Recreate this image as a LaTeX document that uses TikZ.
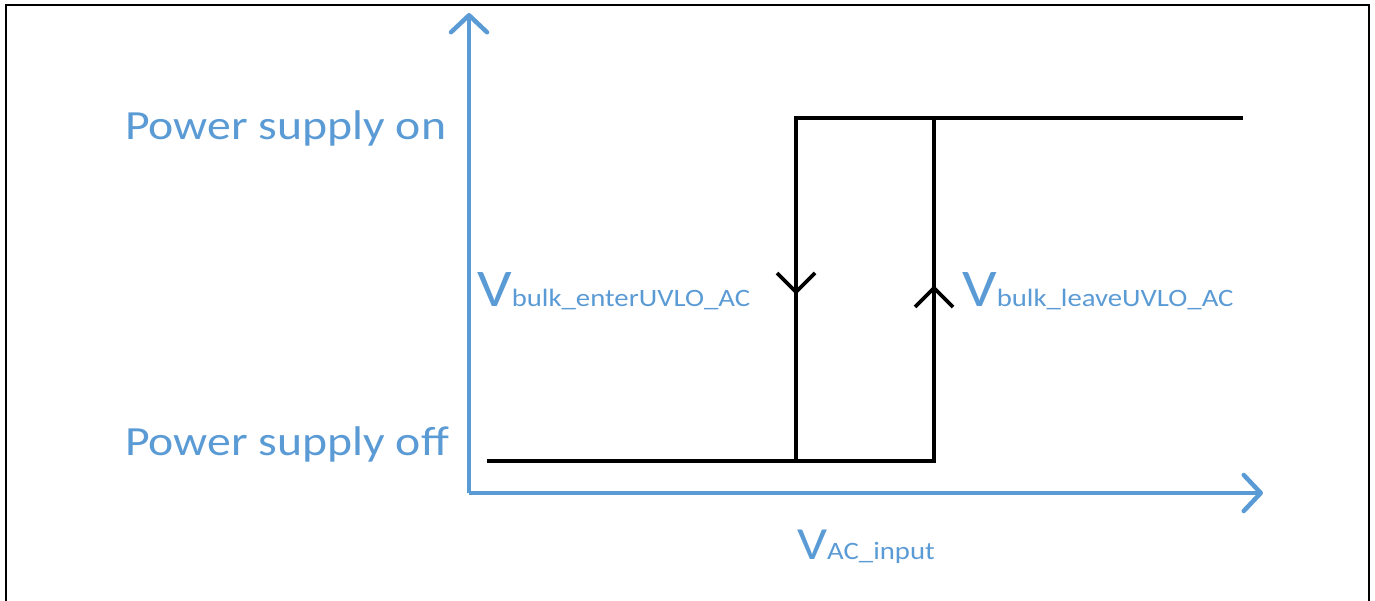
\documentclass[tikz,border=0pt]{standalone}
\usepackage{fontspec}
\usetikzlibrary{arrows.meta}
\newfontfamily\calfont[FakeStretch=1.15]{Carlito}
\definecolor{axisblue}{HTML}{5B9BD5}
\begin{document}
\begin{tikzpicture}[x=1pt,y=-1pt,
  axis/.style={draw=axisblue,line width=4.5pt,line join=miter,
    -{Straight Barb[length=17pt,width=36pt,line cap=round,line join=round]}},
  curve/.style={draw=black,line width=3.8pt,line join=miter},
  chev/.style={draw=black,line width=3.8pt,line join=miter,line cap=butt},
  lbl/.style={anchor=base west,inner sep=0pt,text=axisblue,font=\calfont}]
\useasboundingbox (0,0) rectangle (1375,601);
% frame
\draw[line width=2.5pt] (6,610) -- (6,5) -- (1369,5) -- (1369,610);
% axes
\coordinate (O) at (469,493);
\coordinate (ytip) at (469,13);
\coordinate (xtip) at (1263,493);
\draw[axis] (O) -- (ytip);
\draw[axis] (O) -- (xtip);
% hysteresis curve
\coordinate (b0) at (487,461);
\coordinate (b1) at (796,461);
\coordinate (b2) at (934,461);
\coordinate (t1) at (796,118);
\coordinate (t2) at (934,118);
\coordinate (t3) at (1243,118);
\coordinate (dtip) at (796,292);
\coordinate (utip) at (934,288);
\draw[curve] (b0) -- (b2) -- (t2);
\draw[curve] (b1) -- (t1) -- (t3);
% direction marks
\draw[chev] ([xshift=-19pt,yshift=19pt]dtip) -- (dtip) -- ([xshift=19pt,yshift=19pt]dtip);
\draw[chev] ([xshift=-19pt,yshift=-19pt]utip) -- (utip) -- ([xshift=19pt,yshift=-19pt]utip);
% labels
\node[lbl] (pson) at (125,140) {\fontsize{41.5}{43}\selectfont Power supply on};
\node[lbl] (psoff) at (125,455) {\fontsize{41.5}{43}\selectfont Power supply off};
\node[lbl] (enter) at (477,307) {\fontsize{53}{56}\selectfont V\fontsize{25}{28}\selectfont bulk\_enterUVLO\_AC};
\node[lbl] (leave) at (962,307) {\fontsize{53}{56}\selectfont V\fontsize{25}{28}\selectfont bulk\_leaveUVLO\_AC};
\node[lbl] (vac) at (797,559) {\fontsize{46}{48}\selectfont V\fontsize{25}{28}\selectfont AC\_input};
\end{tikzpicture}
\end{document}
